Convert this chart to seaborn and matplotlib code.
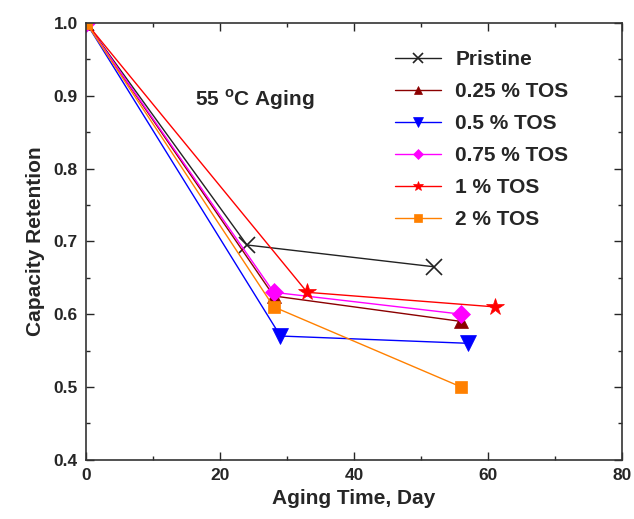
import matplotlib
matplotlib.use("Agg")
import matplotlib.pyplot as plt
import seaborn as sns
import pandas as pd
from matplotlib.ticker import MultipleLocator

series = ["Pristine", "0.25 % TOS", "0.5 % TOS", "0.75 % TOS", "1 % TOS", "2 % TOS"]
days = {
    "Pristine":   [0, 24, 52],
    "0.25 % TOS": [0, 28, 56],
    "0.5 % TOS":  [0, 29, 57],
    "0.75 % TOS": [0, 28, 56],
    "1 % TOS":    [0, 33, 61],
    "2 % TOS":    [0, 28, 56],
}
retention = {
    "Pristine":   [1.0, 0.695, 0.665],
    "0.25 % TOS": [1.0, 0.625, 0.59],
    "0.5 % TOS":  [1.0, 0.57, 0.56],
    "0.75 % TOS": [1.0, 0.63, 0.60],
    "1 % TOS":    [1.0, 0.63, 0.61],
    "2 % TOS":    [1.0, 0.61, 0.50],
}
colors = ["#222222", "#8b0000", "#0000ff", "#ff00ff", "#ff0000", "#ff8000"]
markers = ["x", "^", "v", "D", "*", "s"]
msizes = [12, 10, 11, 9, 13, 9]

rows = []
for s in series:
    for d, r in zip(days[s], retention[s]):
        rows.append({"Day": d, "Retention": r, "Sample": s})
df = pd.DataFrame(rows)

sns.set_style("ticks")
plt.rcParams["font.family"] = ["Liberation Sans", "DejaVu Sans"]
plt.rcParams["font.weight"] = "bold"

fig = plt.figure(figsize=(6.34, 5.19), dpi=100)
ax = fig.add_axes([0.136, 0.114, 0.845, 0.842])

for s, c, m, ms in zip(series, colors, markers, msizes):
    sub = df[df["Sample"] == s]
    sns.lineplot(data=sub, x="Day", y="Retention", ax=ax, color=c, marker=m,
                 markersize=ms, linewidth=1.0, label=s, estimator=None, sort=False,
                 markeredgecolor=c, markeredgewidth=1.2 if m == "x" else 0.5)

ax.set_xlim(0, 80)
ax.set_ylim(0.4, 1.0)
ax.xaxis.set_major_locator(MultipleLocator(20))
ax.xaxis.set_minor_locator(MultipleLocator(10))
ax.yaxis.set_major_locator(MultipleLocator(0.1))
ax.yaxis.set_minor_locator(MultipleLocator(0.05))
ax.tick_params(which="both", direction="in", top=True, right=True, width=1.0)
ax.tick_params(which="major", length=6, labelsize=12.5, pad=6)
ax.tick_params(which="minor", length=3)
for t in ax.get_xticklabels() + ax.get_yticklabels():
    t.set_fontweight("bold")
for sp in ax.spines.values():
    sp.set_linewidth(1.2)
    sp.set_color("#333333")

ax.set_xlabel("Aging Time, Day", fontsize=15, fontweight="bold", labelpad=4)
ax.set_ylabel("Capacity Retention", fontsize=15, fontweight="bold", labelpad=6)

ax.text(16.3, 0.894, r"55 $^{\mathregular{o}}$C Aging", fontsize=15, fontweight="bold",
        va="center", ha="left")

leg = ax.legend(loc="upper left", bbox_to_anchor=(0.576, 0.937), frameon=False,
                fontsize=15, handlelength=2.2, labelspacing=0.62, markerscale=0.6,
                borderaxespad=0, borderpad=0, handletextpad=0.7)
for t in leg.get_texts():
    t.set_fontweight("bold")

fig.savefig("out.png", dpi=100)
